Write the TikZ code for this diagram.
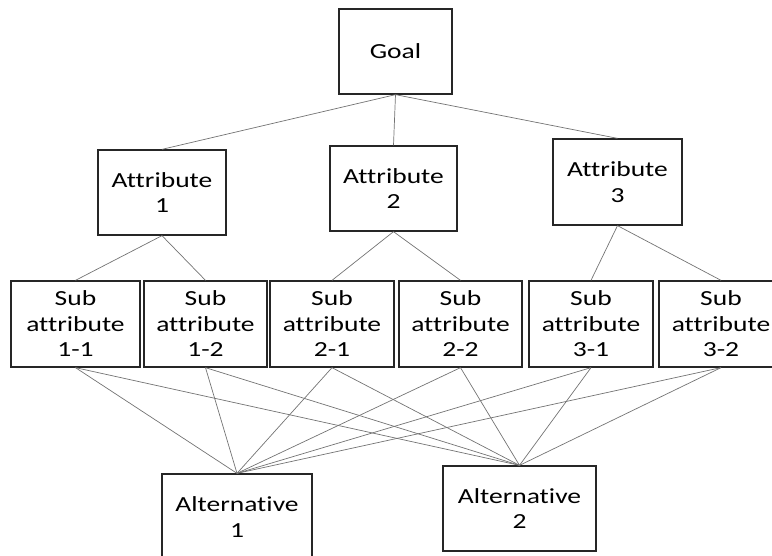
\documentclass[tikz,border=0pt]{standalone}
\usepackage{fontspec}
\setmainfont{Carlito}[FakeStretch=1.28,Ligatures={NoCommon}]
\begin{document}
\begin{tikzpicture}[x=1pt,y=-1pt,
  box/.style={draw=black!85,line width=1.3pt,fill=white,align=center,inner sep=0pt,
    font=\fontsize{21.5}{25.5}\selectfont,text=black},
  link/.style={draw=black!55,line width=0.7pt}]
\useasboundingbox (0,0) rectangle (772,556);
\node[box,minimum width=113pt,minimum height=85pt] (goal) at (395.5,51.5) {Goal};
\node[box,minimum width=128pt,minimum height=85pt] (a1) at (162,192.5) {Attribute\\1};
\node[box,minimum width=127pt,minimum height=85pt] (a2) at (393.5,188.5) {Attribute\\2};
\node[box,minimum width=129pt,minimum height=86pt] (a3) at (617.5,182) {Attribute\\3};
\node[box,minimum width=129pt,minimum height=86pt] (s11) at (75.5,324) {Sub\\attribute\\1-1};
\node[box,minimum width=123pt,minimum height=86pt] (s12) at (205.5,324) {Sub\\attribute\\1-2};
\node[box,minimum width=124pt,minimum height=86pt] (s21) at (332,324) {Sub\\attribute\\2-1};
\node[box,minimum width=123pt,minimum height=86pt] (s22) at (460.5,324) {Sub\\attribute\\2-2};
\node[box,minimum width=124pt,minimum height=86pt] (s31) at (591,324) {Sub\\attribute\\3-1};
\node[box,minimum width=124pt,minimum height=86pt] (s32) at (721,324) {Sub\\attribute\\3-2};
\node[box,minimum width=150pt,minimum height=86pt] (alt1) at (237,517) {Alternative\\1};
\node[box,minimum width=153pt,minimum height=85pt] (alt2) at (519.5,508.5) {Alternative\\2};
\foreach \a in {a1,a2,a3} \draw[link] (goal.south) -- (\a.north);
\draw[link] (a1.south) -- (s11.north);
\draw[link] (a1.south) -- (s12.north);
\draw[link] (a2.south) -- (s21.north);
\draw[link] (a2.south) -- (s22.north);
\draw[link] (a3.south) -- (s31.north);
\draw[link] (a3.south) -- (s32.north);
\foreach \s in {s11,s12,s21,s22,s31,s32} {
  \draw[link] (\s.south) -- (alt1.north);
  \draw[link] (\s.south) -- (alt2.north);
}
\end{tikzpicture}
\end{document}
